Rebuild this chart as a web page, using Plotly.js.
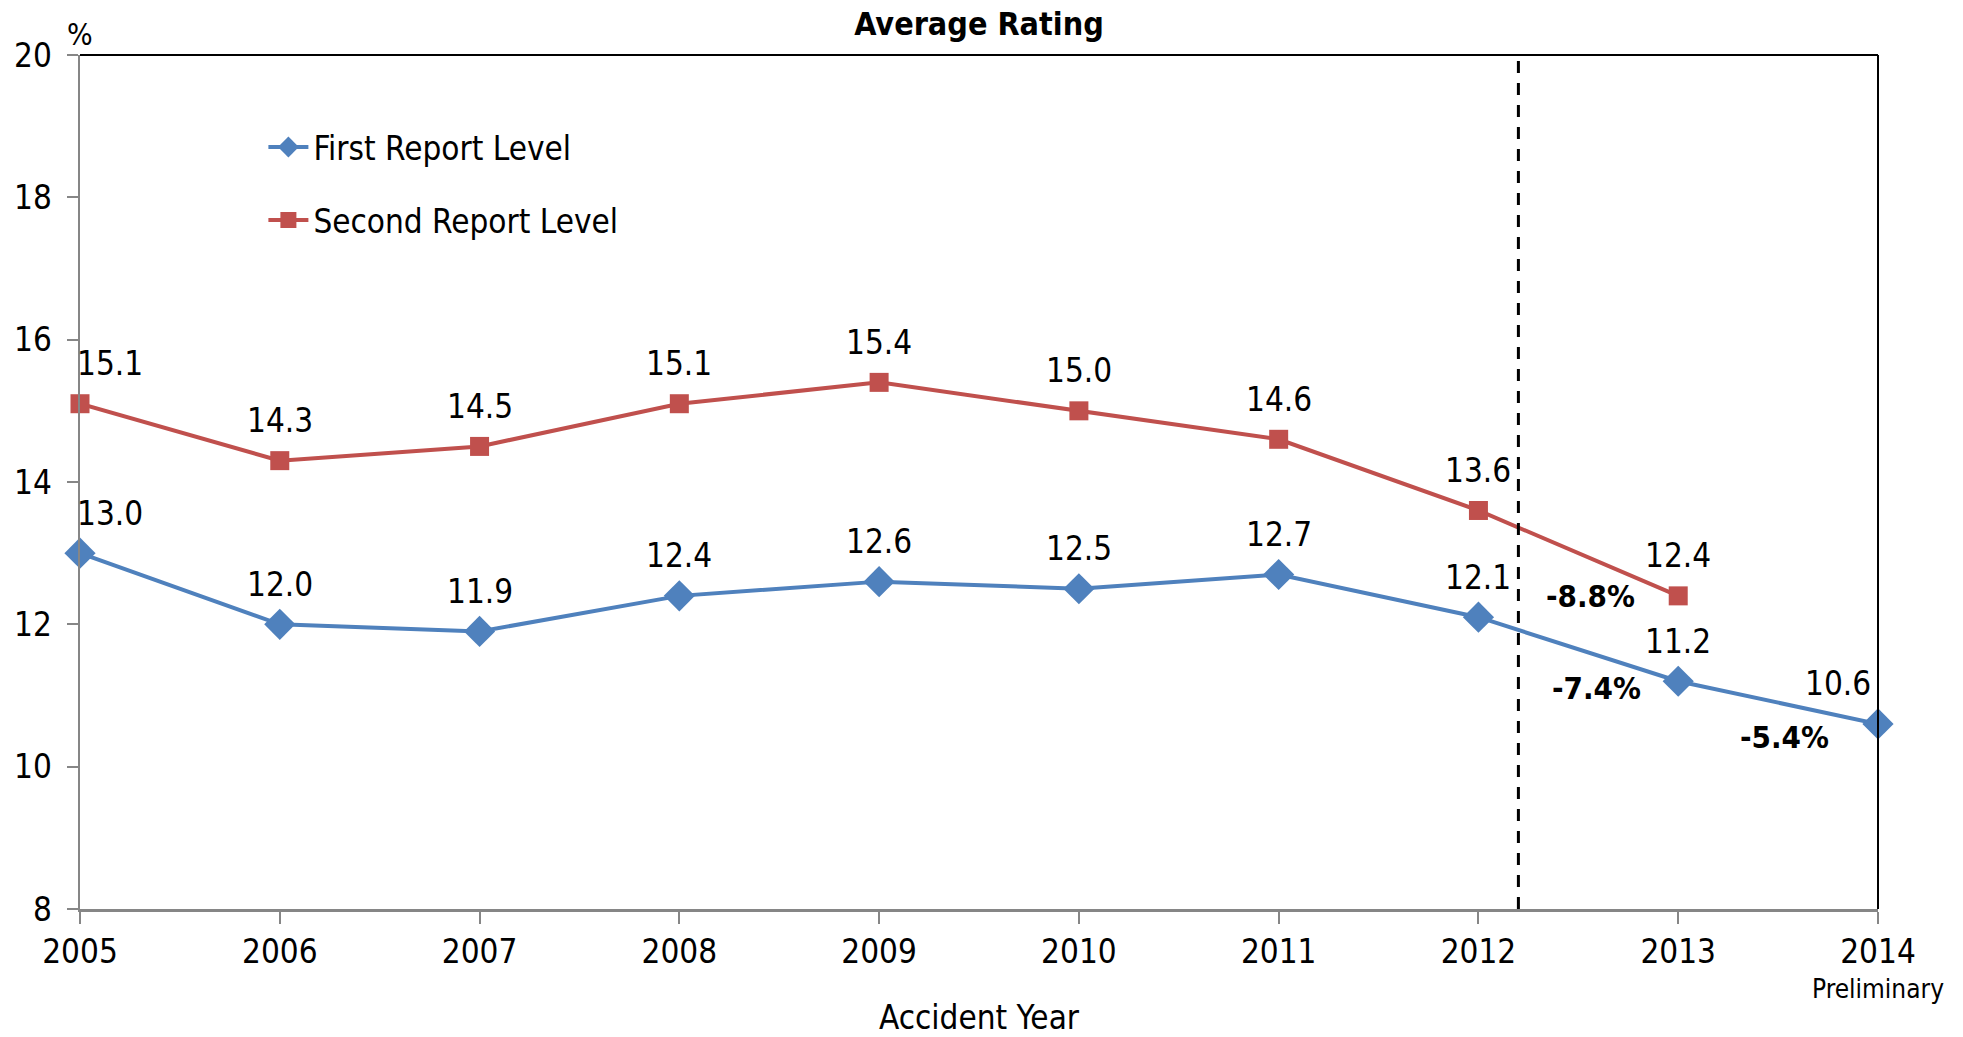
<!DOCTYPE html>
<html>
<head>
<meta charset="utf-8">
<script src="https://cdn.plot.ly/plotly-3.0.1.min.js"></script>
<style>
  html, body { margin: 0; padding: 0; background: #fff; }
  #chart { width: 1963px; height: 1037px; }
</style>
</head>
<body>
<div id="chart"></div>
<script>
// ---- data ----
const years = [2005, 2006, 2007, 2008, 2009, 2010, 2011, 2012, 2013, 2014];
const tickLabels = ['2005', '2006', '2007', '2008', '2009', '2010', '2011', '2012', '2013', '2014'];
const subLabel = 'Preliminary';
const firstReport = [13.0, 12.0, 11.9, 12.4, 12.6, 12.5, 12.7, 12.1, 11.2, 10.6];
const secondYears = [2005, 2006, 2007, 2008, 2009, 2010, 2011, 2012, 2013];
const secondReport = [15.1, 14.3, 14.5, 15.1, 15.4, 15.0, 14.6, 13.6, 12.4];
const changeLabels = ['-8.8%', '-7.4%', '-5.4%'];
const changeX = [2012.56, 2012.59, 2013.53];
const changeY = [12.40, 11.10, 10.41];
const dividerX = 2012.2;

const FONT = '"Liberation Sans Narrow", "Arial Narrow", "DejaVu Sans Condensed", sans-serif';
const BLUE = '#4F81BD';
const RED = '#C0504D';
const GRAY = '#868686';

const traces = [
  {
    x: years, y: firstReport, name: 'First Report Level', type: 'scatter', mode: 'lines+markers',
    line: { color: BLUE, width: 4 },
    marker: { symbol: 'diamond', size: 24, color: BLUE },
    cliponaxis: false, legendgroup: 'a'
  },
  {
    x: secondYears, y: secondReport, name: 'Second Report Level', type: 'scatter', mode: 'lines+markers',
    line: { color: RED, width: 4 },
    marker: { symbol: 'square', size: 19, color: RED },
    cliponaxis: false, legendgroup: 'b'
  }
];

const annotations = [];
function addValueLabels(xs, ys) {
  xs.forEach((x, i) => {
    let xshift = 0;
    if (x === years[0]) xshift = 30;
    if (x === years[years.length - 1]) xshift = -40;
    annotations.push({
      x: x, y: ys[i], text: ys[i].toFixed(1), showarrow: false,
      xref: 'x', yref: 'y', yshift: 40, xshift: xshift,
      font: { family: FONT, size: 33, color: '#000' }
    });
  });
}
addValueLabels(years, firstReport);
addValueLabels(secondYears, secondReport);
changeLabels.forEach((t, i) => {
  annotations.push({
    x: changeX[i], y: changeY[i], text: '<b>' + t + '</b>', showarrow: false,
    xref: 'x', yref: 'y', font: { family: FONT, size: 31, color: '#000' }
  });
});
annotations.push({
  x: 0, y: 1, xref: 'paper', yref: 'paper', yshift: 40, xshift: -15, text: '%', showarrow: false,
  font: { family: FONT, size: 30, color: '#000' }
});
annotations.push({
  x: years[years.length - 1], y: 0, xref: 'x', yref: 'paper', yanchor: 'middle', yshift: -80,
  text: subLabel, showarrow: false, font: { family: FONT, size: 26, color: '#000' }
});

const layout = {
  width: 1963, height: 1037,
  margin: { l: 80, r: 85, t: 55, b: 128 },
  paper_bgcolor: '#fff', plot_bgcolor: '#fff',
  font: { family: FONT, size: 33, color: '#000' },
  title: {
    text: '<b>Average Rating</b>', x: 0.5, xref: 'paper', y: 0.977, yref: 'container', yanchor: 'middle',
    font: { family: FONT, size: 32, color: '#000' }
  },
  xaxis: {
    range: [2005, 2014], tickvals: years, ticktext: tickLabels,
    showgrid: false, zeroline: false,
    showline: true, linecolor: GRAY, linewidth: 2.5,
    ticks: 'outside', ticklen: 12, tickwidth: 2, tickcolor: GRAY,
    tickfont: { family: FONT, size: 33, color: '#000' },
    title: { text: 'Accident Year', standoff: 38, font: { family: FONT, size: 33, color: '#000' } }
  },
  yaxis: {
    range: [8, 20], dtick: 2, tick0: 8,
    showgrid: false, zeroline: false,
    showline: true, linecolor: GRAY, linewidth: 2.5,
    ticks: 'outside', ticklen: 11, tickwidth: 2, tickcolor: GRAY,
    ticklabelstandoff: 8,
    tickfont: { family: FONT, size: 33, color: '#000' }
  },
  showlegend: true,
  legend: {
    x: 0.102, y: 0.925, xanchor: 'left', yanchor: 'top',
    bgcolor: 'rgba(0,0,0,0)', font: { family: FONT, size: 33, color: '#000' },
    tracegroupgap: 27, traceorder: 'grouped', itemwidth: 40
  },
  shapes: [
    { type: 'line', xref: 'x', yref: 'paper', x0: dividerX, x1: dividerX, y0: 0, y1: 1,
      line: { color: '#000', width: 3, dash: '12px,10px' } },
    { type: 'line', xref: 'paper', yref: 'paper', x0: 0, x1: 1, y0: 1, y1: 1,
      line: { color: '#000', width: 2 } },
    { type: 'line', xref: 'paper', yref: 'paper', x0: 1, x1: 1, y0: 0, y1: 1,
      line: { color: '#000', width: 2 } }
  ],
  annotations: annotations
};

Plotly.newPlot('chart', traces, layout, { displayModeBar: false, staticPlot: true });
</script>
</body>
</html>
